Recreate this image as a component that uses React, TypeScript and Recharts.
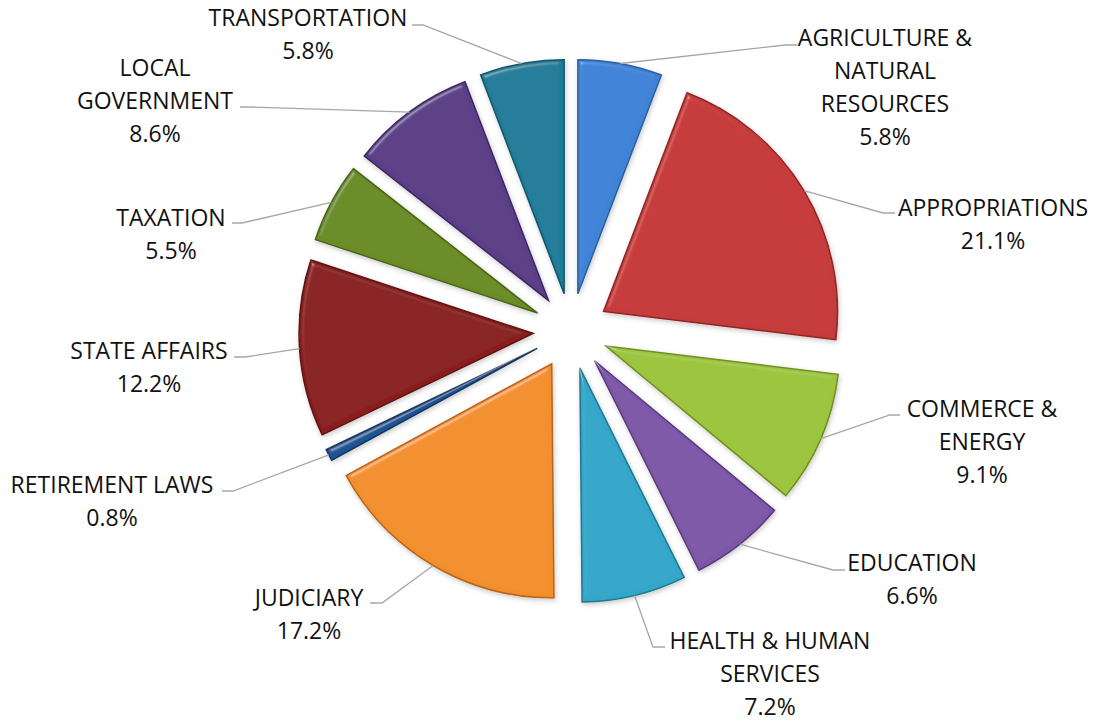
import { PieChart, Pie, Cell, Sector } from 'recharts';

// committee share of bills, clockwise from 12 o'clock
const categories = [
  'AGRICULTURE &\nNATURAL\nRESOURCES',
  'APPROPRIATIONS',
  'COMMERCE &\nENERGY',
  'EDUCATION',
  'HEALTH & HUMAN\nSERVICES',
  'JUDICIARY',
  'RETIREMENT LAWS',
  'STATE AFFAIRS',
  'TAXATION',
  'LOCAL\nGOVERNMENT',
  'TRANSPORTATION',
];

const shares = [5.8, 21.1, 9.1, 6.6, 7.2, 17.2, 0.8, 12.2, 5.5, 8.6, 5.8];

const colors = [
  '#3f83d6', '#c63a3a', '#9cc43c', '#7d57a8', '#33a7c9', '#f28f2c',
  '#1f5594', '#8a1f1f', '#6a8c25', '#5b3e87', '#1f7c98',
];

const edgeColors = [
  '#2a5f9e', '#8e2626', '#6f8f22', '#563b78', '#21768f', '#b8651a',
  '#13355c', '#5c1212', '#4a6317', '#3c2860', '#135567',
];

const data = categories.map((name, i) => ({ name, value: shares[i] }));

// where Excel put each label: text centre (first line) and leader elbow/end
const labelLayout = [
  { x: 885, y: 37, elbow: [785, 45], end: [797, 45] },
  { x: 993, y: 207, elbow: [883, 213], end: [895, 213] },
  { x: 982, y: 408, elbow: [890, 415], end: [900, 415] },
  { x: 912, y: 562, elbow: [833, 570], end: [845, 570] },
  { x: 770, y: 640, elbow: [653, 647], end: [665, 647] },
  { x: 309, y: 597, elbow: [382, 603], end: [370, 603] },
  { x: 112, y: 484, elbow: [233, 491], end: [222, 491] },
  { x: 149, y: 350, elbow: [245, 357], end: [234, 357] },
  { x: 171, y: 217, elbow: [242, 223], end: [232, 223] },
  { x: 155, y: 67, elbow: [252, 107], end: [240, 107] },
  { x: 308, y: 17, elbow: [423, 25], end: [412, 25] },
];

const EXPLODE = 38;
const LINE_H = 33;
const RAD = Math.PI / 180;

const ExplodedSector = (props: any) => {
  const { cx, cy, midAngle, innerRadius, outerRadius, startAngle, endAngle, fill, stroke } = props;
  const dx = EXPLODE * Math.cos(-midAngle * RAD);
  const dy = EXPLODE * Math.sin(-midAngle * RAD);
  return (
    <Sector
      cx={cx + dx}
      cy={cy + dy}
      innerRadius={innerRadius}
      outerRadius={outerRadius}
      startAngle={startAngle}
      endAngle={endAngle}
      fill={fill}
      stroke={stroke}
      strokeWidth={1.5}
      filter="url(#bevel)"
    />
  );
};

const renderLabel = (props: any) => {
  const { cx, cy, midAngle, outerRadius, index, value } = props;
  const layout = labelLayout[index];
  const c = Math.cos(-midAngle * RAD);
  const s = Math.sin(-midAngle * RAD);
  const sx = cx + (EXPLODE + outerRadius) * c;
  const sy = cy + (EXPLODE + outerRadius) * s;
  const lines = [...categories[index].split('\n'), `${Number(value).toFixed(1)}%`];
  return (
    <g>
      <polyline
        points={`${sx},${sy} ${layout.elbow[0]},${layout.elbow[1]} ${layout.end[0]},${layout.end[1]}`}
        fill="none"
        stroke="#a6a6a6"
        strokeWidth={1.3}
      />
      {lines.map((t, i) => (
        <text
          key={i}
          x={layout.x}
          y={layout.y + i * LINE_H}
          textAnchor="middle"
          dominantBaseline="central"
          fill="#111"
          fontSize={23}
        >
          {t}
        </text>
      ))}
    </g>
  );
};

export default function App() {
  return (
    <div style={{ position: 'absolute', left: 0, top: 0, background: '#fff' }}>
      <svg width={0} height={0} style={{ position: 'absolute' }}>
        <defs>
          <filter id="bevel" x="-10%" y="-10%" width="120%" height="120%">
            <feGaussianBlur in="SourceAlpha" stdDeviation="2.5" result="blur" />
            <feSpecularLighting
              in="blur"
              surfaceScale="3"
              specularConstant="0.6"
              specularExponent="60"
              lightingColor="#ffffff"
              result="spec"
            >
              <feDistantLight azimuth="235" elevation="50" />
            </feSpecularLighting>
            <feComposite in="spec" in2="SourceAlpha" operator="in" result="specIn" />
            <feComposite in="SourceGraphic" in2="specIn" operator="arithmetic" k1="0" k2="1" k3="0.4" k4="0" result="lit" />
            <feDropShadow in="lit" dx="1" dy="2" stdDeviation="2.5" floodColor="#000" floodOpacity="0.22" />
          </filter>
        </defs>
      </svg>
      <PieChart
        width={1097}
        height={721}
        margin={{ top: 0, right: 0, bottom: 0, left: 0 }}
        style={{ fontFamily: '"Open Sans", sans-serif' }}
      >
        <Pie
          data={data}
          dataKey="value"
          nameKey="name"
          cx={571}
          cy={331}
          outerRadius={234}
          startAngle={90}
          endAngle={-270}
          shape={ExplodedSector}
          activeShape={ExplodedSector}
          inactiveShape={ExplodedSector}
          label={renderLabel}
          labelLine={false}
          isAnimationActive={false}
        >
          {data.map((d, i) => (
            <Cell key={d.name} fill={colors[i]} stroke={edgeColors[i]} />
          ))}
        </Pie>
      </PieChart>
    </div>
  );
}
